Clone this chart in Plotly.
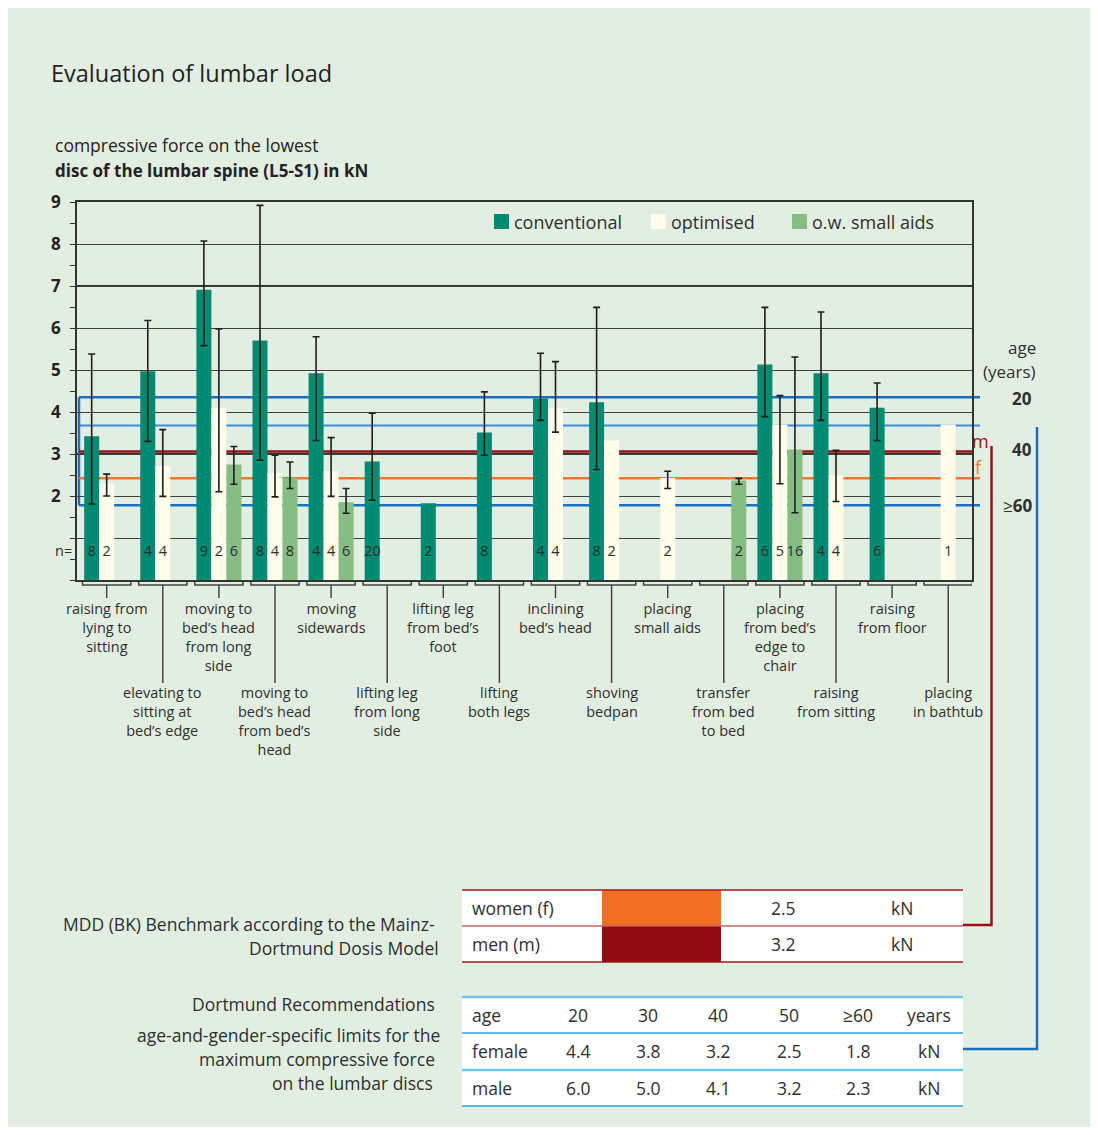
import plotly.graph_objects as go

# ---------------- data ----------------
categories = [
    "raising from<br>lying to<br>sitting",
    "elevating to<br>sitting at<br>bed’s edge",
    "moving to<br>bed’s head<br>from long<br>side",
    "moving to<br>bed’s head<br>from bed’s<br>head",
    "moving<br>sidewards",
    "lifting leg<br>from long<br>side",
    "lifting leg<br>from bed’s<br>foot",
    "lifting<br>both legs",
    "inclining<br>bed’s head",
    "shoving<br>bedpan",
    "placing<br>small aids",
    "transfer<br>from bed<br>to bed",
    "placing<br>from bed’s<br>edge to<br>chair",
    "raising<br>from sitting",
    "raising<br>from floor",
    "placing<br>in bathtub",
]

conv    = [3.42, 4.97, 6.91, 5.70, 4.92, 2.82, 1.83, 3.51, 4.32, 4.23, None, None, 5.13, 4.92, 4.10, None]
conv_hi = [5.38, 6.18, 8.07, 8.92, 5.79, 3.97, None, 4.48, 5.40, 6.49, None, None, 6.49, 6.38, 4.69, None]
conv_lo = [1.81, 3.30, 5.58, 2.85, 3.32, 1.90, None, 2.97, 3.80, 2.63, None, None, 3.89, 3.80, 3.32, None]
conv_n  = [8, 4, 9, 8, 4, 20, 2, 8, 4, 8, None, None, 6, 4, 6, None]

opt     = [2.30, 2.71, 4.10, 2.54, 2.59, None, None, None, 4.10, 3.32, 2.43, None, 3.70, 2.49, None, 3.70]
opt_hi  = [2.52, 3.58, 5.98, 2.97, 3.39, None, None, None, 5.20, None, 2.59, None, 4.39, 3.09, None, None]
opt_lo  = [2.00, 1.99, 2.10, 1.98, 1.99, None, None, None, 3.52, None, 2.18, None, 2.29, 1.87, None, None]
opt_n   = [2, 4, 2, 4, 4, None, None, None, 4, 2, 2, None, 5, 4, None, 1]

aids    = [None, None, 2.75, 2.42, 1.85, None, None, None, None, None, None, 2.37, 3.11, None, None, None]
aids_hi = [None, None, 3.18, 2.81, 2.18, None, None, None, None, None, None, 2.42, 5.31, None, None, None]
aids_lo = [None, None, 2.28, 2.18, 1.59, None, None, None, None, None, None, 2.28, 1.60, None, None, None]
aids_n  = [None, None, 6, 8, 6, None, None, None, None, None, None, 2, 16, None, None, None]

series_names = ["conventional", "optimised", "o.w. small aids"]
series_colors = ["#008b72", "#fffcea", "#85bd83"]

# limit lines as drawn in the chart (kN)
age_limit_lines = [4.35, 3.68, 1.78]      # Dortmund female limits 20 / 30 / >=60 years
male_benchmark_line = 3.06                # MDD men (m)
female_benchmark_line = 2.42              # MDD women (f)

ytick_vals = [0, 1, 2, 3, 4, 5, 6, 7, 8, 9]
ytick_text = ["", "", "2", "3", "4", "5", "6", "7", "8", "9"]

mdd_rows = ["women (f)", "men (m)"]
mdd_values = ["2.5", "3.2"]
mdd_colors = ["#f26f21", "#930b10"]

dort_header = ["20", "30", "40", "50", "≥60"]
dort_female = ["4.4", "3.8", "3.2", "2.5", "1.8"]
dort_male = ["6.0", "5.0", "4.1", "3.2", "2.3"]

# ---------------- geometry helpers (page pixel coordinates) ----------------
PAGE_OFF = 8                      # browser body margin
W, H = 1098 - PAGE_OFF, 1135 - 2 * PAGE_OFF
L, R, T, B = 77, 972, 202, 580    # plot area on the page
FONT = "Open Sans"
TXT = "#2e2e2e"


def xp(px):
    return (px - L) / (R - L)


def yp(py):
    return (B - py) / (B - T)


n_cat = len(categories)
idx = list(range(n_cat))
slot = 0.2674
offsets = [-slot, 0.0, slot]

fig = go.Figure()

all_vals = [conv, opt, aids]
all_hi = [conv_hi, opt_hi, aids_hi]
all_lo = [conv_lo, opt_lo, aids_lo]
all_n = [conv_n, opt_n, aids_n]

for s in range(3):
    xs = [i + offsets[s] for i in idx]
    fig.add_trace(go.Bar(
        x=xs, y=all_vals[s], width=slot, name=series_names[s],
        marker=dict(color=series_colors[s], line=dict(width=0)),
        showlegend=False, hoverinfo="skip"))

for s in range(3):
    ex, ey, eu, ed = [], [], [], []
    for i in idx:
        if all_hi[s][i] is not None:
            ex.append(i + offsets[s])
            ey.append(all_vals[s][i])
            eu.append(all_hi[s][i] - all_vals[s][i])
            ed.append(all_vals[s][i] - all_lo[s][i])
    fig.add_trace(go.Scatter(
        x=ex, y=ey, mode="markers", marker=dict(size=1, opacity=0),
        error_y=dict(type="data", symmetric=False, array=eu, arrayminus=ed,
                     color="#1e1e1e", thickness=1.6, width=3.5),
        showlegend=False, hoverinfo="skip"))

# n labels inside bars
for s in range(3):
    nx, nt = [], []
    for i in idx:
        if all_n[s][i] is not None:
            nx.append(i + offsets[s])
            nt.append(str(all_n[s][i]))
    fig.add_trace(go.Scatter(
        x=nx, y=[0.66] * len(nx), mode="text", text=nt,
        textfont=dict(family=FONT, size=14.5, color=TXT),
        showlegend=False, hoverinfo="skip"))

shapes = []
annotations = []

# darker gridlines at 3 and 7
for gv in [3, 7]:
    shapes.append(dict(type="line", xref="paper", yref="y", x0=0, x1=1, y0=gv, y1=gv,
                       line=dict(color="#303030", width=2), layer="between"))

# limit lines
blue = "#1b6fbf"
for k, v in enumerate(age_limit_lines):
    shapes.append(dict(type="line", xref="paper", yref="y", x0=xp(79), x1=xp(980), y0=v, y1=v,
                       line=dict(color=blue if k != 1 else "#3d8bd3", width=2.5 if k != 1 else 2),
                       layer="between"))
shapes.append(dict(type="line", xref="paper", yref="y", x0=xp(79), x1=xp(79),
                   y0=age_limit_lines[2], y1=age_limit_lines[0],
                   line=dict(color=blue, width=2.5), layer="between"))
shapes.append(dict(type="line", xref="paper", yref="y", x0=xp(79), x1=xp(972),
                   y0=male_benchmark_line, y1=male_benchmark_line,
                   line=dict(color="#9b1016", width=2.5), layer="between"))
shapes.append(dict(type="line", xref="paper", yref="y", x0=xp(79), x1=xp(980),
                   y0=female_benchmark_line, y1=female_benchmark_line,
                   line=dict(color="#f0782a", width=2.5), layer="between"))

# connectors to tables
shapes.append(dict(type="path", xref="paper", yref="paper",
                   path=f"M {xp(991.5)} {yp(446)} L {xp(991.5)} {yp(925)} L {xp(963)} {yp(925)}",
                   line=dict(color="#9b1016", width=2.5)))
shapes.append(dict(type="path", xref="paper", yref="paper",
                   path=f"M {xp(1037)} {yp(427)} L {xp(1037)} {yp(1049)} L {xp(963)} {yp(1049)}",
                   line=dict(color=blue, width=2.5)))

# category brackets and labels
for i in idx:
    lower = i % 2 == 1
    shapes.append(dict(type="path", xref="x", yref="paper",
                       path=f"M {i-0.43} {yp(582)} L {i-0.43} {yp(585)} L {i+0.43} {yp(585)} L {i+0.43} {yp(582)}",
                       line=dict(color="#444", width=1.5)))
    shapes.append(dict(type="line", xref="x", yref="paper", x0=i, x1=i,
                       y0=yp(585), y1=yp(683 if lower else 598),
                       line=dict(color="#444", width=1.5)))
    annotations.append(dict(x=i, y=yp(681 if lower else 597), xref="x", yref="paper",
                            text=categories[i], showarrow=False, xanchor="center", yanchor="top",
                            align="center", font=dict(family=FONT, size=14.5, color=TXT)))


def txt(x, y, s, size=16, color=TXT, xanchor="left", weight="normal"):
    annotations.append(dict(x=xp(x), y=yp(y), xref="paper", yref="paper", text=s,
                            showarrow=False, xanchor=xanchor, yanchor="middle",
                            font=dict(family=FONT, size=size, color=color, weight=weight)))


# titles
txt(49, 73, "Evaluation of lumbar load", size=23.5, color="#222")
txt(53, 145, "compressive force on the lowest", size=17.5, color="#222")
txt(53, 170, "disc of the lumbar spine (L5-S1) in kN", size=17, color="#222", weight="bold")

# n= label
txt(63, 550, "n=", size=14.5, xanchor="center")

# legend
leg_x = [494, 651, 792]
for s in range(3):
    shapes.append(dict(type="rect", xref="paper", yref="paper", x0=xp(leg_x[s]), x1=xp(leg_x[s] + 15),
                       y0=yp(214), y1=yp(229), fillcolor=series_colors[s], line=dict(width=0)))
    txt(leg_x[s] + 18, 222, series_names[s], size=18)

# right side labels
txt(1038, 347, "age", size=17, xanchor="right")
txt(1038, 371, "(years)", size=17, xanchor="right")
txt(1034, 398, "20", size=17, xanchor="right", weight="bold")
txt(1034, 449, "40", size=17, xanchor="right", weight="bold")
txt(1034, 505, "≥<b>60</b>", size=17, xanchor="right")
txt(980, 441, "m", size=18, color="#9b1016", xanchor="center")
txt(979, 467, "f", size=18, color="#f0782a", xanchor="center")

TS = 17.5
# MDD table
shapes.append(dict(type="rect", xref="paper", yref="paper", x0=xp(462), x1=xp(963), y0=yp(890), y1=yp(962),
                   fillcolor="white", line=dict(width=0)))
for r in range(2):
    y0, y1 = 890 + r * 36, 926 + r * 36
    shapes.append(dict(type="rect", xref="paper", yref="paper", x0=xp(602), x1=xp(721), y0=yp(y0), y1=yp(y1),
                       fillcolor=mdd_colors[r], line=dict(width=0)))
    txt(470, (y0 + y1) / 2, mdd_rows[r], size=TS)
    txt(783, (y0 + y1) / 2, mdd_values[r], size=TS, xanchor="center")
    txt(902, (y0 + y1) / 2, "kN", size=TS, xanchor="center")
for yy, c in [(890, "#a3171c"), (926, "#c46060"), (962, "#a3171c")]:
    shapes.append(dict(type="line", xref="paper", yref="paper", x0=xp(462), x1=xp(963), y0=yp(yy), y1=yp(yy),
                       line=dict(color=c, width=1.5)))
txt(437, 924, "MDD (BK) Benchmark according to the Mainz-", size=TS, xanchor="right")
txt(441, 948, "Dortmund Dosis Model", size=TS, xanchor="right")

# Dortmund table
shapes.append(dict(type="rect", xref="paper", yref="paper", x0=xp(462), x1=xp(963), y0=yp(997), y1=yp(1106),
                   fillcolor="white", line=dict(width=0)))
for yy, c, w in [(997, "#6cc6ee", 2.5), (1033, "#2aa3e2", 1.5), (1070, "#6cc6ee", 2.5), (1106, "#2aa3e2", 1.5)]:
    shapes.append(dict(type="line", xref="paper", yref="paper", x0=xp(462), x1=xp(963), y0=yp(yy), y1=yp(yy),
                       line=dict(color=c, width=w)))
col_x = [578, 648, 718, 789, 858]
rows = [("age", dort_header, "years", 1015), ("female", dort_female, "kN", 1051), ("male", dort_male, "kN", 1088)]
for lab, vals, unit, yy in rows:
    txt(470, yy, lab, size=TS)
    for cx, v in zip(col_x, vals):
        txt(cx, yy, v, size=TS, xanchor="center")
    txt(929, yy, unit, size=TS, xanchor="center")
txt(437, 1004, "Dortmund Recommendations", size=TS, xanchor="right")
txt(442, 1035, "age-and-gender-specific limits for the", size=TS, xanchor="right")
txt(437, 1059, "maximum compressive force", size=TS, xanchor="right")
txt(435, 1083, "on the lumbar discs", size=TS, xanchor="right")

fig.update_layout(
    width=W, height=H, autosize=False,
    margin=dict(l=L - PAGE_OFF, r=W + PAGE_OFF - R, t=T - PAGE_OFF, b=H + PAGE_OFF - B, pad=0),
    paper_bgcolor="#e3eee3", plot_bgcolor="rgba(0,0,0,0)",
    barmode="overlay", showlegend=False,
    shapes=shapes, annotations=annotations,
    font=dict(family=FONT, color=TXT),
    xaxis=dict(range=[-0.529, 15.424], showticklabels=False, showgrid=False, zeroline=False,
               showline=True, linecolor="#333", linewidth=1.5, mirror=True, ticks="", fixedrange=True),
    yaxis=dict(range=[0, 9], tickvals=ytick_vals, ticktext=ytick_text, showgrid=True,
               gridcolor="#404040", gridwidth=1, zeroline=False, showline=True, linecolor="#333",
               linewidth=1.5, mirror=True, ticks="outside", ticklen=5, tickcolor="#333", tickwidth=1.2,
               tickfont=dict(family=FONT, size=17, color="#222", weight="bold"), ticklabelstandoff=6,
               minor=dict(dtick=0.5, ticks="outside", ticklen=5, tickcolor="#333", tickwidth=1.2, showgrid=False),
               fixedrange=True),
)

fig.write_html("out.html")
